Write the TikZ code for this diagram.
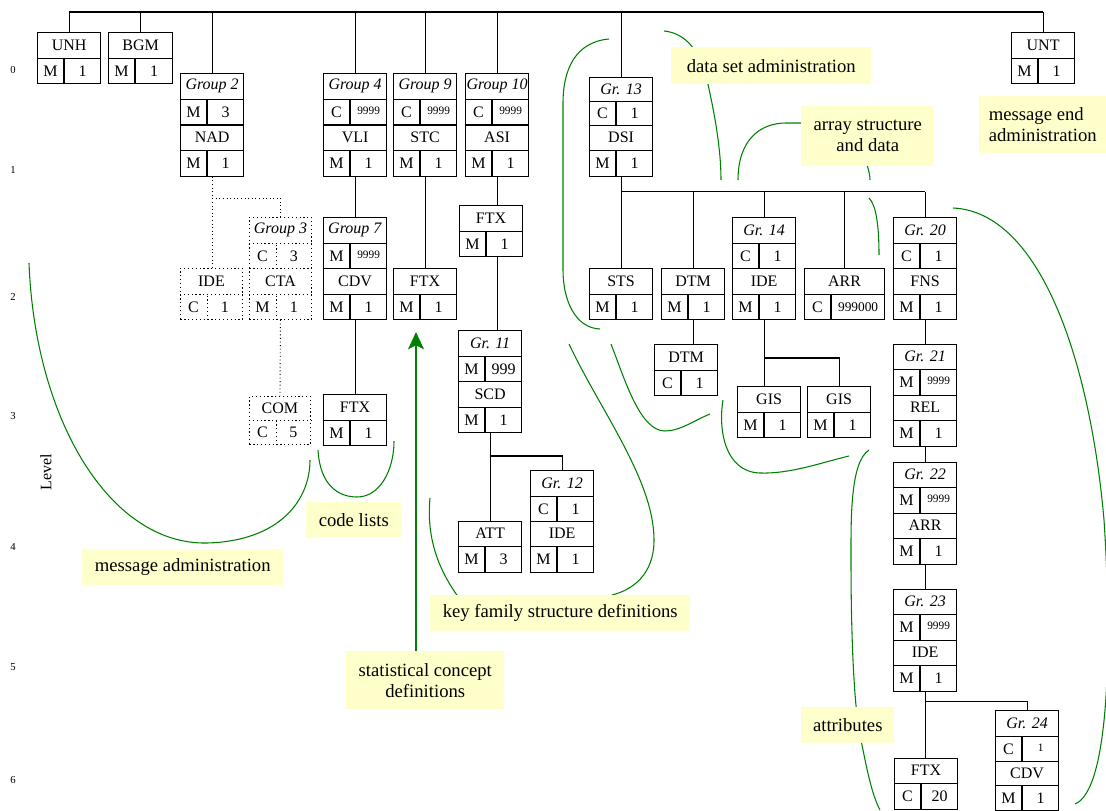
\documentclass[tikz,border=0pt]{standalone}
\usepackage{fontspec}
\setmainfont{Liberation Serif}
\usepackage{tikz}
\usetikzlibrary{arrows.meta,calc,positioning}
\definecolor{notefill}{RGB}{255,255,204}
\definecolor{darkgreen}{RGB}{0,128,0}
\newcommand{\pxu}{0.75pt}
\newcommand{\boxfont}{\fontsize{12}{14}\selectfont}
\newcommand{\notefont}{\fontsize{14}{15.75}\selectfont}
\newcommand{\rep}[1]{\raisebox{2.5pt}{\fontsize{8.5}{10}\selectfont #1}}
\tikzset{
  segbox/.style={draw, line width=0.9pt, inner sep=0pt, anchor=north west,
    minimum width=63*\pxu, minimum height=51*\pxu},
  segline/.style={line width=0.9pt},
  opt/.style={dotted, line width=0.7pt},
  link/.style={line width=0.9pt},
  notebox/.style={fill=notefill, inner sep=0pt, anchor=north west, font=\notefont, align=center},
  bracket/.style={draw=darkgreen, line width=0.8pt},
  pointer/.style={bracket, -{Stealth[length=13pt, width=12pt, inset=3pt]}},
  levelnum/.style={font=\fontsize{8}{9}\selectfont}
}
% segment box: [style] name, x, y (top left), tag, status, repetition
\newcommand{\edibox}[7][]{%
  \node[segbox,#1] (#2) at (#3,#4) {};
  \coordinate (#2-d) at ($(#2.south west)+(27,0)$);
  \coordinate (#2-m) at ($(#2.west)+(27,0)$);
  \draw[segline,#1] (#2.west) -- (#2.east) (#2-d) -- (#2-m);
  \node (#2-tag) at ($(#2.north)!0.5!(#2.center)$) {#5};
  \node (#2-st) at ($(#2.west)!0.5!(#2-d)$) {#6};
  \node (#2-rep) at ($(#2-m)!0.5!(#2.south east)$) {#7};
}

\begin{document}
\begin{tikzpicture}[x=0.75pt, y=-0.75pt, font=\boxfont]
  \useasboundingbox (0,0) rectangle (1106,810);
  % Level scale
  \foreach \lv/\yy in {0/70,1/170,2/297,3/416,4/547,5/667,6/780}
    \node[levelnum] (lv\lv) at (13,\yy) {\lv};
  \node[rotate=90] (levellabel) at (46,472) {Level};

  % Level 0
  \edibox{unh}{37}{32}{UNH}{M}{1}
  \edibox[minimum width=64*\pxu]{bgm}{108}{32}{BGM}{M}{1}
  \edibox{unt}{1011}{32}{UNT}{M}{1}
  % Level 1
  \edibox{grp2}{180}{73}{\textit{Group 2}}{M}{3}
  \edibox{nad}{180}{124.5}{NAD}{M}{1}
  \edibox{grp4}{323}{73}{\textit{Group 4}}{C}{\rep{9999}}
  \edibox{vli}{323}{124.5}{VLI}{M}{1}
  \edibox{grp9}{393}{73}{\textit{Group 9}}{C}{\rep{9999}}
  \edibox{stc}{393}{124.5}{STC}{M}{1}
  \edibox{grp10}{465}{73}{\textit{Group 10}}{C}{\rep{9999}}
  \edibox{asi}{465}{124.5}{ASI}{M}{1}
  \edibox[minimum height=47.5*\pxu]{grp13}{589}{77}{\textit{Gr. 13}}{C}{1}
  \edibox{dsi}{589}{124.5}{DSI}{M}{1}
  % Level 2
  \edibox[opt, minimum width=62*\pxu]{ide}{180}{268}{IDE}{C}{1}
  \edibox[opt, minimum width=62*\pxu]{grp3}{249}{217}{\textit{Group 3}}{C}{3}
  \edibox[opt, minimum width=62*\pxu]{cta}{249}{268}{CTA}{M}{1}
  \edibox{grp7}{323}{217}{\textit{Group 7}}{M}{\rep{9999}}
  \edibox{cdv}{323}{268}{CDV}{M}{1}
  \edibox{ftxc}{393}{268}{FTX}{M}{1}
  \edibox{ftxa}{459}{205}{FTX}{M}{1}
  \edibox{sts}{589}{268}{STS}{M}{1}
  \edibox{dtm}{661}{268}{DTM}{M}{1}
  \edibox{grp14}{732}{217}{\textit{Gr. 14}}{C}{1}
  \edibox{idea}{732}{268}{IDE}{M}{1}
  \edibox[minimum width=80*\pxu]{arr}{804}{268}{ARR}{C}{{\fontsize{10}{12}\selectfont 999000}}
  \edibox{grp20}{893}{217}{\textit{Gr. 20}}{C}{1}
  \edibox{fns}{893}{268}{FNS}{M}{1}
  % Level 3
  \edibox[opt, minimum width=61*\pxu, minimum height=48*\pxu]{com}{249}{396}{COM}{C}{5}
  \edibox{ftxb}{323}{394}{FTX}{M}{1}
  \edibox{grp11}{458}{330}{\textit{Gr. 11}}{M}{999}
  \edibox{scd}{458}{381}{SCD}{M}{1}
  \edibox{dtmb}{654}{344}{DTM}{C}{1}
  \edibox{gisa}{737}{386}{GIS}{M}{1}
  \edibox{gisb}{807}{386}{GIS}{M}{1}
  \edibox{grp21}{893}{343.5}{\textit{Gr. 21}}{M}{\rep{9999}}
  \edibox{rel}{893}{394.5}{REL}{M}{1}
  % Level 4
  \edibox{att}{458}{520.5}{ATT}{M}{3}
  \edibox{grp12}{530}{470}{\textit{Gr. 12}}{C}{1}
  \edibox{ideb}{530}{520.5}{IDE}{M}{1}
  \edibox{grp22}{893}{461.5}{\textit{Gr. 22}}{M}{\rep{9999}}
  \edibox{arrb}{893}{512.5}{ARR}{M}{1}
  % Level 5 and 6
  \edibox{grp23}{893}{588.5}{\textit{Gr. 23}}{M}{\rep{9999}}
  \edibox{idec}{893}{639.5}{IDE}{M}{1}
  \edibox{ftxd}{894}{757.5}{FTX}{C}{20}
  \edibox{grp24}{995}{710}{\textit{Gr. 24}}{C}{\rep{1}}
  \edibox[minimum height=48.5*\pxu]{cdvb}{995}{761}{CDV}{M}{1}

  % Tree lines
  \coordinate (topbus) at (0,12);
  \draw[link] (unh.north |- topbus) -- (unt.north |- topbus);
  \foreach \n in {unh,bgm,grp2,grp4,grp9,grp10,grp13,unt}
    \draw[link] (\n.north) -- (\n.north |- topbus);
  \draw[link] (vli.south) -- (grp7.north);
  \draw[link] (cdv.south) -- (ftxb.north);
  \draw[link] (stc.south) -- (ftxc.north);
  \draw[link] (asi.south) -- (asi.south |- ftxa.north);
  \draw[link] (asi.south |- ftxa.south) -- (asi.south |- grp11.north);
  \draw[link] (scd.south) -- (scd.south |- att.north);
  \coordinate (scdfork) at (0,456);
  \draw[link] (scd.south |- scdfork) -- (grp12.north |- scdfork) -- (grp12.north);
  % conditional branch
  \coordinate (nadfork) at (0,198);
  \draw[opt] (nad.south) -- (nad.south |- ide.north);
  \draw[opt] (nad.south |- nadfork) -- (grp3.north |- nadfork) -- (grp3.north);
  \draw[opt] (cta.south) -- (com.north);
  % data set branch
  \coordinate (dsifork) at (0,191.7);
  \draw[link] (dsi.south) -- (dsi.south |- sts.north);
  \draw[link] (dsi.south |- dsifork) -- (grp20.north |- dsifork);
  \foreach \n in {dtm,grp14,arr,grp20}
    \draw[link] (\n.north) -- (\n.north |- dsifork);
  \draw[link] (dtm.south) -- (dtm.south |- dtmb.north);
  \coordinate (ideafork) at (0,358);
  \draw[link] (idea.south) -- (idea.south |- gisa.north);
  \draw[link] (idea.south |- ideafork) -- (gisb.north |- ideafork) -- (gisb.north);
  \draw[link] (fns.south) -- (grp21.north);
  \draw[link] (rel.south) -- (grp22.north);
  \draw[link] (arrb.south) -- (grp23.north);
  \coordinate (idecfork) at (0,701.7);
  \draw[link] (idec.south) -- (idec.south |- ftxd.north);
  \draw[link] (idec.south |- idecfork) -- (grp24.north |- idecfork) -- (grp24.north);

  % Green brackets
  \draw[bracket] (29,263) .. controls (35,420) and (110,545) .. (207,543)
    .. controls (280,541) and (310,500) .. (310,460);
  \draw[bracket] (318,450) .. controls (320,485) and (338,497) .. (357,497)
    .. controls (380,497) and (394,470) .. (394,441);
  \draw[bracket] (430,498) .. controls (426,540) and (440,572) .. (459,598);
  \draw[bracket] (569,344) .. controls (600,410) and (654,480) .. (654,540)
    .. controls (654,575) and (632,590) .. (612,595);
  \draw[bracket] (609,39) .. controls (575,42) and (563,70) .. (563,103)
    -- (563,270) .. controls (563,300) and (575,328) .. (600,329);
  \draw[bracket] (664,31) .. controls (685,33) and (700,50) .. (707,80)
    .. controls (715,115) and (721,150) .. (721,180);
  \draw[bracket] (738,180) .. controls (738,140) and (760,123) .. (786,123) -- (810,123);
  \draw[bracket] (862,150) .. controls (866,162) and (870,172) .. (870,180);
  \draw[bracket] (869,198) .. controls (876,205) and (879,225) .. (879,255);
  \draw[bracket] (611,344) .. controls (625,380) and (640,431) .. (665,431)
    .. controls (680,431) and (695,420) .. (710,414);
  \draw[bracket] (723,400) .. controls (718,430) and (725,472) .. (760,473)
    .. controls (790,474) and (820,463) .. (849,456);
  \draw[bracket] (869,450) .. controls (850,462) and (851,520) .. (851,560)
    .. controls (851,650) and (855,720) .. (862,745)
    .. controls (867,770) and (872,795) .. (880,810);
  \draw[bracket] (953,208) .. controls (1040,212) and (1090,360) .. (1104,520)
    .. controls (1112,640) and (1110,790) .. (1075,804);

  % Notes
  \node[notebox, minimum width=200*\pxu, minimum height=37*\pxu] (dsnote) at (671,47) {data set administration};
  \node[notebox, minimum width=133*\pxu, minimum height=60*\pxu] (arrnote) at (801,106) {array structure\\ and data};
  \node[notebox, align=left, minimum width=127*\pxu, minimum height=57*\pxu] (endnote) at (979,96) {message end\\administration};
  \node[notebox, minimum width=95*\pxu, minimum height=36*\pxu] (codenote) at (306,502) {code lists};
  \node[notebox, minimum width=201*\pxu, minimum height=36*\pxu] (msgnote) at (82,549) {message administration};
  \node[notebox, minimum width=260*\pxu, minimum height=36*\pxu] (keynote) at (430,595) {key family structure definitions};
  \node[notebox, minimum width=158*\pxu, minimum height=58*\pxu] (statnote) at (346,651) {statistical concept\\definitions};
  \node[notebox, minimum width=93*\pxu, minimum height=36*\pxu] (attnote) at (801,707) {attributes};
  \coordinate (stattip) at (416,332);
  \draw[pointer] (statnote.north -| stattip) -- (stattip);
\end{tikzpicture}
\end{document}
